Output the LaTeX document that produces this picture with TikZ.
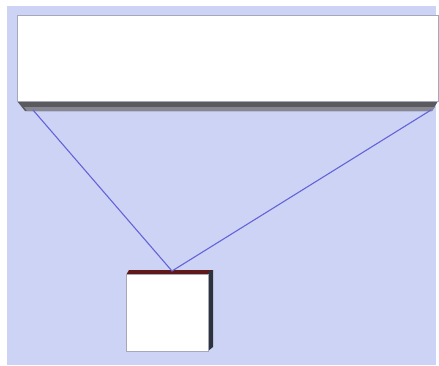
\documentclass[tikz,border=0pt]{standalone}
\definecolor{bgc}{RGB}{205,211,245}
\definecolor{wirec}{RGB}{100,100,215}
\definecolor{edgec}{RGB}{165,168,185}
\definecolor{shadowa}{RGB}{90,90,95}
\definecolor{shadowb}{RGB}{135,135,145}
\definecolor{topred}{RGB}{95,25,25}
\definecolor{sidedark}{RGB}{45,50,60}
\begin{document}
\begin{tikzpicture}[x=1pt,y=-1pt,
  wire/.style={draw=wirec,line width=1.1pt},
  panel/.style={fill=white,draw=edgec,line width=1.2pt}]
\useasboundingbox (0,0) rectangle (439,365);
\fill[white] (0,0) rectangle (439,365);
\fill[bgc] (7,6) rectangle (436,365);
% big box shadow
\fill[shadowa] (17,101) -- (438,101) -- (432,111) -- (25,111) -- cycle;
\fill[shadowb] (24,107) -- (435,107) -- (432,111) -- (27,111) -- cycle;
\node[panel,minimum width=421pt,minimum height=86pt,inner sep=0pt,anchor=north west] (top) at (17,15) {};
% small box
\fill[topred] (129,270) -- (213,270) -- (211,275) -- (126,275) -- cycle;
\fill[sidedark] (208,272) -- (213,270) -- (213,347) -- (208,351) -- cycle;
\node[panel,line width=0.8pt,minimum width=82pt,minimum height=77pt,inner sep=0pt,anchor=north west] (box) at (126,274) {};
\coordinate (tl) at (33,110);
\coordinate (tr) at (431,110);
\coordinate (b) at (172,271);
\draw[wire] (tl) -- (b) -- (tr);
\end{tikzpicture}
\end{document}
